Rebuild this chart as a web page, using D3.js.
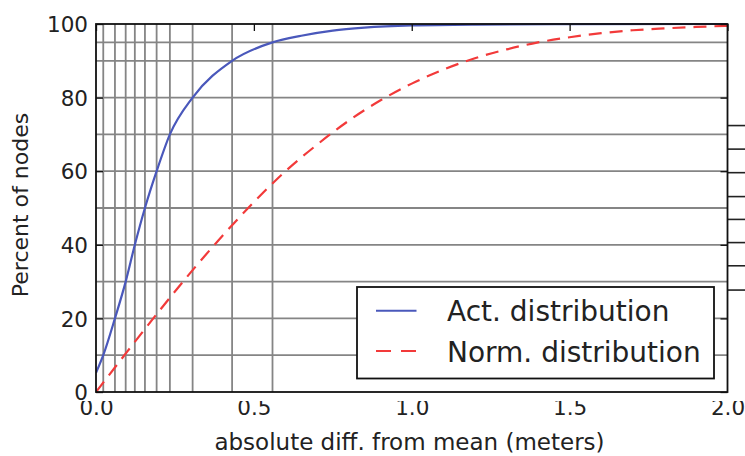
<!DOCTYPE html>
<html><head><meta charset="utf-8">
<script src="https://cdn.jsdelivr.net/npm/d3@7"></script>
<style>body{margin:0;background:#fff}svg{display:block}text{font-family:"DejaVu Sans",sans-serif;fill:#222}</style>
</head><body><svg id="c" width="745" height="456"></svg>
<script>
// Actual distribution (cumulative percent vs absolute diff)
const actX = [0, 0.023, 0.060, 0.094, 0.123, 0.155, 0.192, 0.234, 0.306, 0.431, 0.559, 0.65, 0.75, 0.85, 1.0, 1.2, 1.5, 2.0];
const actY = [5.2, 10, 20, 30, 40, 50, 60, 70, 80, 90, 95, 96.8, 98.2, 99.0, 99.6, 99.85, 99.95, 100];
// Normal distribution (cumulative percent)
const normX = [0, 0.1, 0.2, 0.3, 0.4, 0.5, 0.6, 0.7, 0.8, 0.9, 1.0, 1.1, 1.2, 1.3, 1.4, 1.5, 1.6, 1.7, 1.8, 1.9, 2.0];
const normY = [0, 11.1, 22.0, 32.5, 42.4, 51.6, 60.0, 67.2, 73.7, 79.2, 83.8, 87.6, 90.7, 93.1, 95.0, 96.4, 97.5, 98.3, 98.8, 99.2, 99.5];
// Percentile grid levels and where the actual curve reaches them
const gridPct = [10, 20, 30, 40, 50, 60, 70, 80, 90, 95];
const gridX = [0.023, 0.060, 0.094, 0.123, 0.155, 0.192, 0.234, 0.306, 0.431, 0.559];
const xTicks = [0.0, 0.5, 1.0, 1.5, 2.0];
const yTicks = [0, 20, 40, 60, 80, 100];
const edgeMarks = [72.4, 66.0, 59.6, 53.1, 46.9, 40.6, 34.3, 27.7];
const seriesNames = ["Act. distribution", "Norm. distribution"];
const colors = ["#4a58bb", "#f23a3a"];

const svg = d3.select("#c");
const L = 96, R = 727.5, T = 24, B = 392;
const x = d3.scaleLinear().domain([0, 2]).range([L, R]);
const y = d3.scaleLinear().domain([0, 100]).range([B, T]);

// right-edge stray marks
svg.append("g").selectAll("line").data(edgeMarks).join("line")
  .attr("x1", R).attr("x2", 745).attr("y1", d => y(d)).attr("y2", d => y(d))
  .attr("stroke", "#222").attr("stroke-width", 1.6);

// grid
const grid = svg.append("g").attr("stroke", "#858585").attr("stroke-width", 1.8);
grid.selectAll("line.h").data(gridPct).join("line").attr("class", "h")
  .attr("x1", L).attr("x2", R).attr("y1", d => y(d)).attr("y2", d => y(d));
grid.selectAll("line.v").data(gridX).join("line").attr("class", "v")
  .attr("y1", T).attr("y2", B).attr("x1", d => x(d)).attr("x2", d => x(d));

svg.append("clipPath").attr("id", "pc").append("rect")
  .attr("x", L).attr("y", T - 2).attr("width", R - L).attr("height", B - T + 2);

const line = d3.line().x(d => x(d[0])).y(d => y(d[1])).curve(d3.curveMonotoneX);
const pg = svg.append("g").attr("clip-path", "url(#pc)");
pg.append("path").datum(normX.map((v, i) => [v, normY[i]]))
  .attr("d", line).attr("fill", "none").attr("stroke", colors[1])
  .attr("stroke-width", 2.2).attr("stroke-dasharray", "13,8");
pg.append("path").datum(actX.map((v, i) => [v, actY[i]]))
  .attr("d", line).attr("fill", "none").attr("stroke", colors[0]).attr("stroke-width", 2.2);

// axes (ticks inside)
const tk = 7;
const gxB = svg.append("g").attr("transform", `translate(0,${B})`)
  .call(d3.axisBottom(x).tickValues(xTicks).tickSize(-tk).tickPadding(7).tickFormat(d3.format(".1f")));
const gxT = svg.append("g").attr("transform", `translate(0,${T})`)
  .call(d3.axisTop(x).tickValues(xTicks).tickSize(-tk).tickFormat(""));
const gyL = svg.append("g").attr("transform", `translate(${L},0)`)
  .call(d3.axisLeft(y).tickValues(yTicks).tickSize(-tk).tickPadding(8));
const gyR = svg.append("g").attr("transform", `translate(${R},0)`)
  .call(d3.axisRight(y).tickValues(yTicks).tickSize(-tk).tickFormat(""));
[gxB, gxT, gyL, gyR].forEach(g => {
  g.select(".domain").remove();
  g.selectAll(".tick line").attr("stroke", "#111").attr("stroke-width", 1.3);
  g.selectAll("text").attr("font-size", 21.5).attr("fill", "#222")
    .attr("font-family", '"DejaVu Sans", sans-serif');
});
// tick labels are cut off at the top in the reference (clip in the group's local space)
svg.append("clipPath").attr("id", "xl").append("rect").attr("x", -10).attr("y", 401 - B).attr("width", 800).attr("height", 60);
gxB.attr("clip-path", "url(#xl)");
gxB.selectAll("text").attr("dy", null).attr("y", 23);
gyL.selectAll("text").attr("dy", "0.36em");

// frame
svg.append("rect").attr("x", L).attr("y", T).attr("width", R - L).attr("height", B - T)
  .attr("fill", "none").attr("stroke", "#111").attr("stroke-width", 1.8);

// labels
svg.append("text").attr("x", 409.5).attr("y", 450).attr("text-anchor", "middle")
  .attr("font-size", 23).text("absolute diff. from mean (meters)");
svg.append("text").attr("transform", "translate(28,205) rotate(-90)").attr("text-anchor", "middle")
  .attr("font-size", 22).text("Percent of nodes");

// legend
const lg = svg.append("g");
lg.append("rect").attr("x", 357).attr("y", 287).attr("width", 357).attr("height", 91.5)
  .attr("fill", "#fff").attr("stroke", "#111").attr("stroke-width", 1.8);
const rows = [310.7, 351];
seriesNames.forEach((n, i) => {
  lg.append("line").attr("x1", 376).attr("x2", 416.5).attr("y1", rows[i]).attr("y2", rows[i])
    .attr("stroke", colors[i]).attr("stroke-width", 2)
    .attr("stroke-dasharray", i === 1 ? "15,10" : null);
  lg.append("text").attr("x", 447).attr("y", rows[i] + 10.5).attr("font-size", 28).text(n);
});
</script></body></html>
